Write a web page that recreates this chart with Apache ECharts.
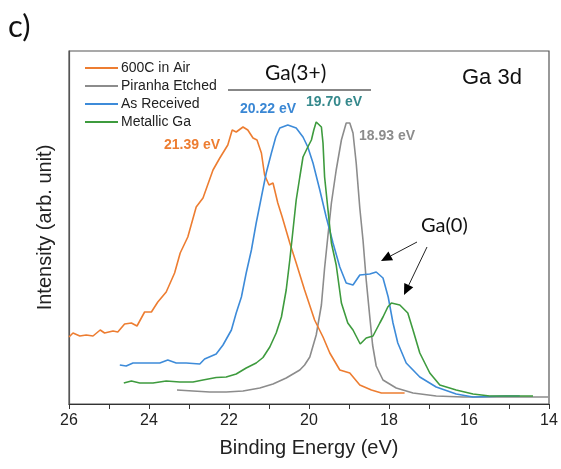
<!DOCTYPE html>
<html>
<head>
<meta charset="utf-8">
<script src="https://cdn.jsdelivr.net/npm/echarts@6/dist/echarts.min.js"></script>
<style>
  html, body {margin: 0; padding: 0; background: #fff;}
  #chart {width: 561px; height: 469px;}
</style>
</head>
<body>
<div id="chart"></div>
<script>
// Ga 3d spectra, binding energy (eV) vs intensity (arb. unit)
const airEnergy = [26.00, 25.90, 25.73, 25.57, 25.40, 25.22, 25.11, 24.90, 24.78, 24.61, 24.44, 24.30, 24.11, 23.94, 23.78, 23.57, 23.36, 23.22, 23.03, 22.82, 22.65, 22.40, 22.23, 22.03, 21.92, 21.82, 21.65, 21.53, 21.40, 21.30, 21.19, 21.11, 21.00, 20.90, 20.78, 20.67, 20.48, 20.32, 20.11, 19.86, 19.65, 19.48, 19.23, 18.98, 18.73, 18.44, 18.19, 17.90, 17.61];
const airIntensity = [67, 71, 68, 69, 68, 74, 71, 73, 72, 80, 81, 78, 92, 92, 102, 112, 131, 151, 167, 197, 206, 234, 246, 259, 274, 272, 277, 274, 266, 264, 251, 229, 219, 221, 201, 187, 161, 141, 114, 84, 67, 51, 34, 31, 19, 14, 11, 11, 11];

const piranhaEnergy = [23.30, 22.90, 22.48, 22.07, 21.65, 21.23, 20.90, 20.57, 20.23, 20.11, 19.98, 19.82, 19.69, 19.61, 19.53, 19.44, 19.32, 19.19, 19.07, 18.98, 18.90, 18.82, 18.73, 18.65, 18.57, 18.48, 18.41, 18.32, 18.15, 17.82, 17.40, 16.82, 16.15, 15.32, 14.48, 14.02];
const piranhaIntensity = [14, 13, 12, 12, 13, 16, 20, 26, 34, 39, 47, 69, 99, 136, 167, 201, 234, 264, 281, 281, 271, 241, 196, 164, 124, 87, 59, 38, 24, 16, 11, 8, 7, 7, 7, 7];

const receivedEnergy = [24.73, 24.57, 24.40, 24.07, 23.73, 23.53, 23.32, 23.07, 22.73, 22.61, 22.32, 22.15, 21.94, 21.82, 21.69, 21.57, 21.44, 21.32, 21.19, 21.07, 20.94, 20.83, 20.73, 20.53, 20.32, 20.15, 20.03, 19.90, 19.73, 19.57, 19.40, 19.23, 19.07, 18.90, 18.73, 18.48, 18.32, 18.15, 18.02, 17.90, 17.78, 17.57, 17.23, 16.82, 16.32, 15.90, 15.48, 15.11, 14.73];
const receivedIntensity = [39, 38, 41, 41, 41, 44, 41, 41, 40, 45, 50, 59, 74, 91, 107, 131, 154, 181, 207, 231, 251, 267, 276, 279, 276, 267, 257, 241, 214, 187, 161, 137, 121, 119, 129, 130, 132, 126, 107, 81, 61, 41, 27, 17, 10, 7, 7.5, 8, 8];

const metallicEnergy = [24.63, 24.44, 24.23, 23.90, 23.57, 23.23, 22.90, 22.65, 22.32, 22.07, 21.82, 21.57, 21.32, 21.15, 20.98, 20.82, 20.69, 20.57, 20.48, 20.40, 20.32, 20.23, 20.15, 20.03, 19.94, 19.88, 19.82, 19.69, 19.65, 19.61, 19.53, 19.44, 19.32, 19.19, 19.03, 18.90, 18.72, 18.57, 18.40, 18.23, 18.15, 18.03, 17.94, 17.73, 17.53, 17.40, 17.23, 16.98, 16.73, 16.32, 15.90, 15.48, 15.07, 14.65, 14.40];
const metallicIntensity = [21, 23, 21, 21, 23, 22, 22, 24, 26.5, 27, 30, 36, 41, 46.5, 57, 71, 87, 114, 144, 174, 204, 227, 247, 257, 264, 274, 282, 277, 261, 227, 196, 161, 139, 101, 81, 74, 60, 66, 68, 81, 87, 97, 101, 99, 91, 74, 51, 31, 19, 14, 10, 8, 8, 8, 8];

const seriesNames = ["600C in Air", "Piranha Etched", "As Received", "Metallic Ga"];
const seriesColors = ["#ED7D31", "#8C8C8C", "#3D8BD9", "#3E9B3E"];
const xTicks = [26, 24, 22, 20, 18, 16, 14];

const zip = (xs, ys) => xs.map((x, i) => [x, ys[i]]);
const seriesData = [
    zip(airEnergy, airIntensity),
    zip(piranhaEnergy, piranhaIntensity),
    zip(receivedEnergy, receivedIntensity),
    zip(metallicEnergy, metallicIntensity)
];

const myChart = echarts.init(document.getElementById("chart"));

const arrow = (x1, y1, x2, y2) => {
    // shaft plus filled head pointing to (x2, y2)
    const ang = Math.atan2(y2 - y1, x2 - x1);
    const len = 11, half = 5;
    const bx = x2 - len * Math.cos(ang), by = y2 - len * Math.sin(ang);
    const nx = -Math.sin(ang) * half, ny = Math.cos(ang) * half;
    return [
        {type: "line", shape: {x1: x1, y1: y1, x2: bx, y2: by}, style: {stroke: "#222", lineWidth: 1}},
        {type: "polygon", shape: {points: [[x2, y2], [bx + nx, by + ny], [bx - nx, by - ny]]}, style: {fill: "#000"}}
    ];
};

const label = (text, left, top, color, bold, size, family) => ({
    type: "text", left: left, top: top,
    style: {
        text: text, fill: color,
        font: (bold ? "bold " : "") + size + "px " + (family || "'Liberation Sans', Arial, sans-serif")
    }
});

myChart.setOption({
    animation: false,
    grid: {
        left: 69, right: 12, top: 51, bottom: 65,
        show: true, borderColor: "#555", borderWidth: 1.2
    },
    legend: {
        orient: "vertical",
        left: 80, top: 56,
        icon: "rect",
        itemWidth: 33, itemHeight: 2, itemGap: 4,
        data: seriesNames,
        textStyle: {fontSize: 14, lineHeight: 14, color: "#222", fontFamily: "'Liberation Sans', Arial, sans-serif", padding: [0, 0, 0, -2]}
    },
    xAxis: {
        type: "value",
        inverse: true,
        min: 14, max: 26, interval: 1,
        name: "Binding Energy (eV)",
        nameLocation: "middle",
        nameGap: 34,
        nameTextStyle: {fontSize: 20, color: "#222", fontFamily: "'Liberation Sans', Arial, sans-serif"},
        axisLine: {lineStyle: {color: "#333", width: 1.2}},
        axisTick: {show: true, inside: false, length: 5, lineStyle: {color: "#333"}},
        splitLine: {show: false},
        axisLabel: {
            fontSize: 16, color: "#222", margin: 9,
            fontFamily: "'Liberation Sans', Arial, sans-serif",
            formatter: v => xTicks.includes(v) ? String(v) : ""
        }
    },
    yAxis: {
        type: "value",
        min: 0, max: 353,
        name: "Intensity (arb. unit)",
        nameLocation: "middle",
        nameGap: 14,
        nameTextStyle: {fontSize: 20, color: "#222", fontFamily: "'Liberation Sans', Arial, sans-serif"},
        axisLine: {show: true, lineStyle: {color: "#555", width: 1.2}},
        axisTick: {show: false},
        axisLabel: {show: false},
        splitLine: {show: false}
    },
    series: seriesNames.map((name, i) => ({
        name: name,
        type: "line",
        data: seriesData[i],
        symbol: "none",
        color: seriesColors[i],
        lineStyle: {width: 1.6},
        z: i === 1 ? 1 : 2
    })),
    graphic: [
        label("c)", 8, 11, "#111", false, 31, "Lato, 'Open Sans', sans-serif"),
        label("Ga(3+)", 265, 63, "#111", false, 21, "Lato, 'Open Sans', sans-serif"),
        {type: "line", shape: {x1: 228, y1: 90, x2: 371, y2: 90}, style: {stroke: "#111", lineWidth: 1.2}},
        label("Ga 3d", 462, 67, "#111", false, 22),
        label("21.39 eV", 164, 138, "#ED7D31", true, 14),
        label("20.22 eV", 240, 102, "#3A87D4", true, 14),
        label("19.70 eV", 306, 95, "#35898C", true, 14),
        label("18.93 eV", 359, 129, "#8C8C8C", true, 14),
        label("Ga(0)", 421, 216, "#111", false, 20, "Lato, 'Open Sans', sans-serif"),
        ...arrow(417, 242, 381, 261),
        ...arrow(427, 247, 404, 295)
    ]
});
</script>
</body>
</html>
